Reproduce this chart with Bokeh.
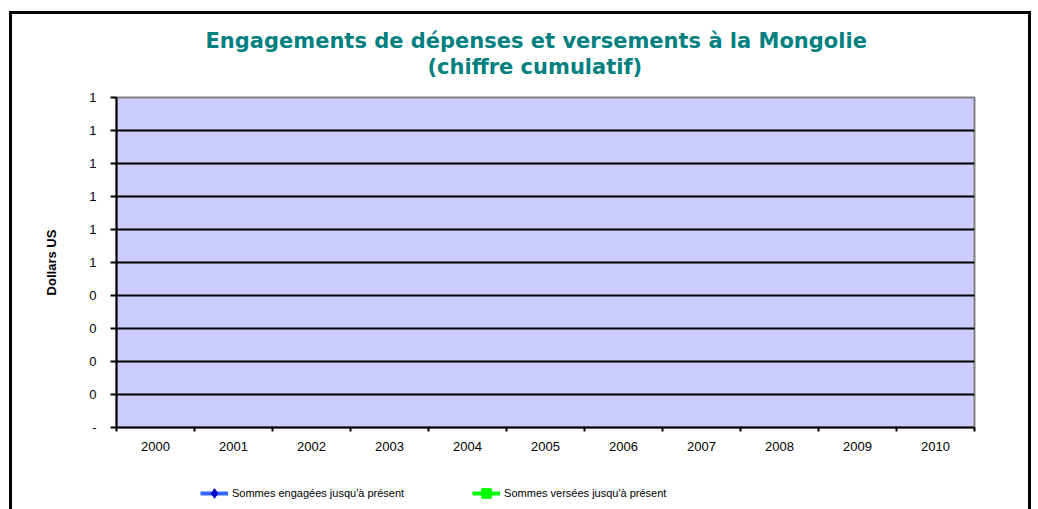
from bokeh.plotting import figure
from bokeh.models import (FixedTicker, Title, Legend, LegendItem, Range1d)
from bokeh.layouts import column
from bokeh.embed import file_html
from bokeh.resources import INLINE

NaN = float("nan")
years = ["2000", "2001", "2002", "2003", "2004", "2005", "2006", "2007", "2008", "2009", "2010"]
engagees = [NaN, NaN, NaN, NaN, NaN, NaN, NaN, NaN, NaN, NaN, NaN]
versees = [NaN, NaN, NaN, NaN, NaN, NaN, NaN, NaN, NaN, NaN, NaN]
y_ticks = [0.0, 0.1, 0.2, 0.3, 0.4, 0.5, 0.6, 0.7, 0.8, 0.9, 1.0]
y_labels = ["-", "0", "0", "0", "0", "1", "1", "1", "1", "1", "1"]
title_lines = ["Engagements de dépenses et versements à la Mongolie", "(chiffre cumulatif)"]
y_title = "Dollars US"
series_names = ["Sommes engagées jusqu'à présent", "Sommes versées jusqu'à présent"]

FONT = "Liberation Sans"

p = figure(width=1022, height=446, output_backend="svg", toolbar_location=None,
           x_range=Range1d(0, len(years)), y_range=Range1d(0, 1),
           min_border_left=104, min_border_right=60, min_border_top=83, min_border_bottom=33)
p.styles = {"border": "3px solid black", "border-bottom": "none",
            "margin-top": "11px", "margin-left": "9px"}
p.background_fill_color = "#CCCCFF"
p.border_fill_color = "white"
p.outline_line_color = "#808080"
p.outline_line_width = 2

xpos = [i + 0.5 for i in range(len(years))]

xa = p.xaxis[0]
xa.ticker = FixedTicker(ticks=xpos, minor_ticks=list(range(len(years) + 1)))
xa.major_label_overrides = {x: y for x, y in zip(xpos, years)}
xa.major_tick_out = 0
xa.major_tick_in = 0
xa.minor_tick_out = 4
xa.minor_tick_in = 0
xa.minor_tick_line_color = "black"
xa.minor_tick_line_width = 2
xa.axis_line_color = "black"
xa.axis_line_width = 2
xa.major_label_text_font = FONT
xa.major_label_text_font_size = "13px"
xa.major_label_text_color = "black"
xa.major_label_standoff = 10

ya = p.yaxis[0]
ya.ticker = FixedTicker(ticks=y_ticks)
ya.major_label_overrides = {t: l for t, l in zip(y_ticks, y_labels)}
ya.major_tick_out = 6
ya.major_tick_in = 0
ya.major_tick_line_color = "black"
ya.major_tick_line_width = 2
ya.minor_tick_line_color = None
ya.axis_line_color = "black"
ya.axis_line_width = 2
ya.major_label_text_font = FONT
ya.major_label_text_font_size = "13px"
ya.major_label_text_color = "black"
ya.major_label_standoff = 14
ya.axis_label = y_title
ya.axis_label_text_font = FONT
ya.axis_label_text_font_size = "13px"
ya.axis_label_text_font_style = "bold"
ya.axis_label_text_color = "black"
ya.axis_label_standoff = 27

p.xgrid.grid_line_color = None
p.ygrid[0].ticker = FixedTicker(ticks=y_ticks[1:-1])
p.ygrid.grid_line_color = "black"
p.ygrid.grid_line_width = 2

l1 = p.line(xpos, engagees, line_color="#3366FF", line_width=4)
s1 = p.scatter(xpos, engagees, marker="diamond", size=11, fill_color="#0000CC", line_color="#0000CC")
l2 = p.line(xpos, versees, line_color="#00FF00", line_width=4)
s2 = p.scatter(xpos, versees, marker="square", size=9, fill_color="#00FF00", line_color="#00FF00")

p.title.visible = False
spacer = Title(text=" ", text_font_size="1px", standoff=16)
t2 = Title(text=title_lines[1], align="left", offset=311, text_font="DejaVu Sans",
           text_font_style="bold", text_font_size="21px", text_color="#008080", standoff=0)
t1 = Title(text=title_lines[0], align="left", offset=89, text_font="DejaVu Sans",
           text_font_style="bold", text_font_size="21px", text_color="#008080", standoff=0)
p.add_layout(spacer, "above")
p.add_layout(t2, "above")
p.add_layout(t1, "above")

# legend strip below the chart
lf = figure(width=1022, height=52, output_backend="svg", toolbar_location=None,
            x_range=Range1d(0, len(years)), y_range=Range1d(0, 1),
            x_axis_location=None, y_axis_location=None, min_border=0)
lf.styles = {"border-left": "3px solid black", "border-right": "3px solid black",
             "margin-left": "9px"}
lf.grid.visible = False
lf.outline_line_color = None
lf.background_fill_color = "white"
lf.border_fill_color = "white"
ll1 = lf.line(xpos, engagees, line_color="#3366FF", line_width=4)
ls1 = lf.scatter(xpos, engagees, marker="diamond", size=11, fill_color="#0000CC", line_color="#0000CC")
ll2 = lf.line(xpos, versees, line_color="#00FF00", line_width=4)
ls2 = lf.scatter(xpos, versees, marker="square", size=9, fill_color="#00FF00", line_color="#00FF00")

legend = Legend(items=[LegendItem(label=series_names[0], renderers=[ll1, ls1]),
                       LegendItem(label=series_names[1], renderers=[ll2, ls2])],
                orientation="horizontal", location=(84, 4),
                glyph_width=28, glyph_height=24, label_height=14, label_standoff=4,
                spacing=68, padding=0, margin=0,
                label_text_font=FONT, label_text_font_size="11px", label_text_color="black",
                border_line_color=None, background_fill_alpha=0)
lf.add_layout(legend, "center")

open("out.html", "w").write(file_html(column(p, lf), INLINE))
